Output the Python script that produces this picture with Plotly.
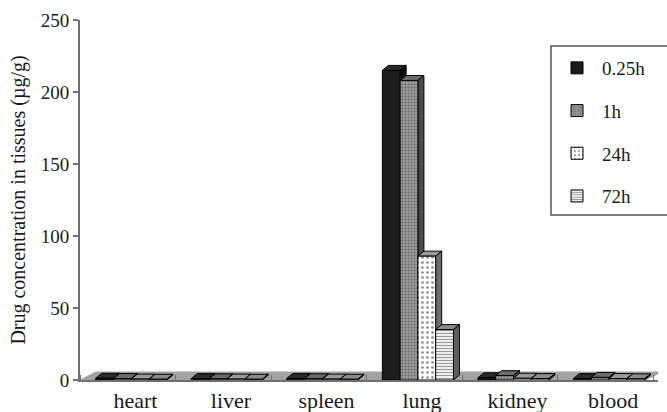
import plotly.graph_objects as go

# Tissue distribution data (µg/g) at each sampling time
tissues = ["heart", "liver", "spleen", "lung", "kidney", "blood"]
times = ["0.25h", "1h", "24h", "72h"]
conc_025h = [1.2, 1.0, 1.1, 215, 1.5, 1.0]
conc_1h = [1.0, 0.8, 0.9, 208, 3.0, 1.8]
conc_24h = [0.6, 0.6, 0.6, 86, 1.2, 1.0]
conc_72h = [0.5, 0.5, 0.5, 35, 1.0, 0.8]
y_ticks = [0, 50, 100, 150, 200, 250]

series = [conc_025h, conc_1h, conc_24h, conc_72h]

# bar fill styles (front face), plus shading for the top and side faces
patterns = [
    dict(color="#1c1c1c", pattern=dict(shape="")),
    dict(color="#9a9a9a", pattern=dict(shape=".", fgcolor="#3a3a3a", bgcolor="#a8a8a8", size=3, solidity=0.5)),
    dict(color="white", pattern=dict(shape=".", fgcolor="#111111", bgcolor="white", size=5, solidity=0.22)),
    dict(color="white", pattern=dict(shape="-", fgcolor="#333333", bgcolor="white", size=3, solidity=0.45)),
]
top_colors = ["#2b2b2b", "#6a6a6a", "#9a9a9a", "#8a8a8a"]
side_colors = ["#0c0c0c", "#4a4a4a", "#6e6e6e", "#5e5e5e"]

FONT = "Liberation Serif"
W_PX, H_PX = 667, 412
M_L, M_R, M_T, M_B = 80, 9, 20, 32
X_RANGE = [-0.5, 5.55]
Y_RANGE = [0, 250]
PLOT_W = W_PX - M_L - M_R
PLOT_H = H_PX - M_T - M_B

BAR_W = 0.186          # width of one bar (category units)
GROUP_START = -0.335   # left edge of the first bar relative to category centre

# 3-D depth offsets converted from pixels to data units
px_per_x = PLOT_W / (X_RANGE[1] - X_RANGE[0])
px_per_y = PLOT_H / (Y_RANGE[1] - Y_RANGE[0])
DX, DY = 6 / px_per_x, 5 / px_per_y
FDX, FDY = 16 / px_per_x, 8 / px_per_y


def paper_x(px):
    return (px - M_L) / PLOT_W


def paper_y(py):
    return (H_PX - M_B - py) / PLOT_H


fig = go.Figure()

shapes = []
# grey floor under the columns
shapes.append(dict(
    type="path", xref="x", yref="y", layer="between",
    path=(f"M{X_RANGE[0]:.4f},0.0001 L5.4200,0.0001 "
          f"L{5.42 + FDX:.4f},{FDY:.4f} L{X_RANGE[0] + FDX:.4f},{FDY:.4f} Z"),
    fillcolor="#a2a2a2", line=dict(color="#a2a2a2", width=1),
))

# top and side faces of every column
for i in range(len(tissues)):
    for j, vals in enumerate(series):
        v = vals[i]
        left = i + GROUP_START + j * BAR_W
        right = left + BAR_W
        shapes.append(dict(
            type="path", xref="x", yref="y", layer="between",
            path=(f"M{left:.4f},{v:.4f} L{right:.4f},{v:.4f} "
                  f"L{right + DX:.4f},{v + DY:.4f} L{left + DX:.4f},{v + DY:.4f} Z"),
            fillcolor=top_colors[j], line=dict(color="black", width=1),
        ))
        shapes.append(dict(
            type="path", xref="x", yref="y", layer="between",
            path=(f"M{right:.4f},0 L{right + DX:.4f},{DY:.4f} "
                  f"L{right + DX:.4f},{v + DY:.4f} L{right:.4f},{v:.4f} Z"),
            fillcolor=side_colors[j], line=dict(color="black", width=1),
        ))

# legend frame, running off the right edge
shapes.append(dict(
    type="rect", xref="paper", yref="paper",
    x0=paper_x(551), x1=paper_x(680), y0=paper_y(215), y1=paper_y(46),
    line=dict(color="#555555", width=1.5), fillcolor="rgba(0,0,0,0)",
))

# front faces
for j, (name, vals) in enumerate(zip(times, series)):
    fig.add_trace(go.Bar(
        name=name,
        x=list(range(len(tissues))),
        y=vals,
        width=BAR_W,
        offset=GROUP_START + j * BAR_W,
        marker=dict(line=dict(color="black", width=1), **patterns[j]),
        legendgroup=name,
        hoverinfo="y",
    ))

fig.update_layout(
    width=W_PX, height=H_PX,
    margin=dict(l=M_L, r=M_R, t=M_T, b=M_B, autoexpand=False),
    paper_bgcolor="white", plot_bgcolor="white",
    barmode="overlay",
    shapes=shapes,
    font=dict(family=FONT, size=19, color="#1a1a1a"),
    legend=dict(
        x=paper_x(552), y=paper_y(49),
        xanchor="left", yanchor="top",
        borderwidth=0,
        font=dict(family=FONT, size=19),
        tracegroupgap=15,
        itemwidth=40,
        bgcolor="rgba(0,0,0,0)",
    ),
    xaxis=dict(
        range=X_RANGE,
        automargin=False,
        tickmode="array",
        tickvals=[i + 0.08 for i in range(len(tissues))],
        ticktext=tissues,
        ticks="",
        tickfont=dict(family=FONT, size=22),
        showline=True, linecolor="#707070", linewidth=1.5,
        showgrid=False, zeroline=False,
        minor=dict(ticks="inside", tick0=0.5, dtick=1, ticklen=5,
                   tickcolor="#707070", tickwidth=1, showgrid=False),
    ),
    yaxis=dict(
        range=Y_RANGE,
        automargin=False,
        tickmode="array",
        tickvals=y_ticks,
        ticks="outside", ticklen=5, tickcolor="#707070", tickwidth=1.5,
        tickfont=dict(family=FONT, size=19),
        showline=True, linecolor="#707070", linewidth=2,
        showgrid=False, zeroline=False,
        title=dict(text="Drug concentration in tissues (µg/g)",
                   font=dict(family=FONT, size=20), standoff=10),
    ),
)

fig.write_html("out.html")
